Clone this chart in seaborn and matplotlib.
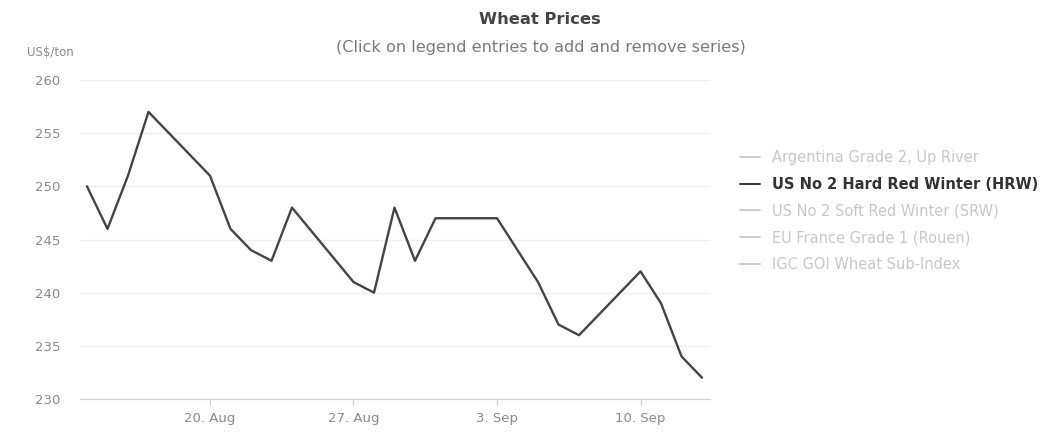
import numpy as np
import pandas as pd
import matplotlib
matplotlib.use("Agg")
import matplotlib.pyplot as plt
from matplotlib.lines import Line2D
import seaborn as sns

# Data (US No 2 Hard Red Winter, US$/ton)
dates = [
    "2018-08-14", "2018-08-15", "2018-08-16", "2018-08-17",
    "2018-08-20", "2018-08-21", "2018-08-22", "2018-08-23", "2018-08-24",
    "2018-08-27", "2018-08-28", "2018-08-29", "2018-08-30", "2018-08-31",
    "2018-09-03", "2018-09-04", "2018-09-05", "2018-09-06", "2018-09-07",
    "2018-09-10", "2018-09-11", "2018-09-12", "2018-09-13",
]
prices = [
    250, 246, 251, 257,
    251, 246, 244, 243, 248,
    241, 240, 248, 243, 247,
    247, 244, 241, 237, 236,
    242, 239, 234, 232,
]

series_names = [
    "Argentina Grade 2, Up River",
    "US No 2 Hard Red Winter (HRW)",
    "US No 2 Soft Red Winter (SRW)",
    "EU France Grade 1 (Rouen)",
    "IGC GOI Wheat Sub-Index",
]
visible_series = "US No 2 Hard Red Winter (HRW)"

tick_dates = ["2018-08-20", "2018-08-27", "2018-09-03", "2018-09-10"]
tick_labels = ["20. Aug", "27. Aug", "3. Sep", "10. Sep"]
y_ticks = [230, 235, 240, 245, 250, 255, 260]

df = pd.DataFrame({"date": pd.to_datetime(dates), "price": prices})

sns.set_theme(style="white")
plt.rcParams["font.family"] = ["DejaVu Sans"]

fig = plt.figure(figsize=(10.42, 4.36), dpi=100)
ax = fig.add_axes([80 / 1042, 37 / 436, 630 / 1042, 319 / 436])

sns.lineplot(data=df, x="date", y="price", ax=ax, color="#444444", linewidth=1.7)

# Axis limits and ticks
ax.set_xlim(pd.Timestamp("2018-08-13 15:50"), pd.Timestamp("2018-09-13 09:20"))
ax.set_ylim(230, 260)
ax.set_yticks(y_ticks)
ax.set_yticklabels([str(v) for v in y_ticks])
ax.set_xticks(pd.to_datetime(tick_dates))
ax.set_xticklabels(tick_labels)

ax.set_xlabel("")
ax.set_ylabel("")

# Grid and spines
ax.grid(axis="y", color="#eeeeee", linewidth=0.9)
ax.grid(axis="x", visible=False)
for side in ["top", "right", "left"]:
    ax.spines[side].set_visible(False)
ax.spines["bottom"].set_color("#d0d0d0")
ax.spines["bottom"].set_linewidth(0.9)

ax.tick_params(axis="y", length=0, pad=14, labelsize=9.5, labelcolor="#8a8a8a")
ax.tick_params(axis="x", length=4, width=0.7, color="#d0d0d0", pad=5,
               labelsize=9.5, labelcolor="#8a8a8a", bottom=True)

# Titles
fig.text(0.518, 0.955, "Wheat Prices", ha="center", va="center",
         fontsize=11.8, fontweight="bold", color="#444444")
fig.text(0.519, 0.89, "(Click on legend entries to add and remove series)",
         ha="center", va="center", fontsize=11.6, color="#7a7a7a")
fig.text(27 / 1042, 1 - 52 / 436, "US$/ton", ha="left", va="center",
         fontsize=8.5, color="#8a8a8a")

# Legend: only HRW is shown, the others are hidden (greyed out)
handles = []
for name in series_names:
    col = "#333333" if name == visible_series else "#cccccc"
    handles.append(Line2D([], [], color=col, linewidth=1.4))
leg = fig.legend(
    handles, series_names,
    loc="center left",
    bbox_to_anchor=(733 / 1042, 1 - 211 / 436),
    frameon=False,
    fontsize=10.5,
    handlelength=1.35,
    handletextpad=0.8,
    labelspacing=0.8,
    borderpad=0,
)
for text, name in zip(leg.get_texts(), series_names):
    if name == visible_series:
        text.set_color("#333333")
        text.set_fontweight("bold")
    else:
        text.set_color("#c8c8c8")

fig.savefig("out.png", dpi=100)
